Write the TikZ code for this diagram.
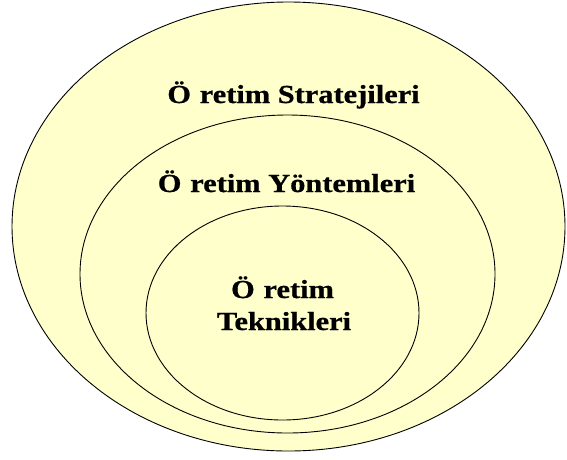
\documentclass[tikz,border=0pt]{standalone}
\usepackage{fontspec}
\setmainfont{Liberation Serif}
\newfontfamily\lblfont[FakeBold=0.7]{Liberation Serif Bold}
\usetikzlibrary{shapes.geometric}
\definecolor{paleyellow}{HTML}{FFFFCC}
\newcommand{\wide}[1]{\scalebox{1.17}[1]{#1}}
\tikzset{
  ring/.style={draw=black, fill=paleyellow, line width=0.9pt},
  lbl/.style={font=\lblfont\fontsize{26}{32}\selectfont, inner sep=0pt}
}
\begin{document}
\begin{tikzpicture}[x=1pt,y=-1pt]
\useasboundingbox (0,0) rectangle (567,459);
\fill[white] (0,0) rectangle (567,459);
\draw[ring] (288.5,226.5) ellipse [x radius=276.5, y radius=224.5];
\draw[ring] (287.5,274) ellipse [x radius=207.5, y radius=159];
\draw[ring] (282.5,313) ellipse [x radius=136.5, y radius=107];
\node[lbl, anchor=base] (strat) at (293.5,103) {\wide{Ö\hspace{7.5pt}retim Stratejileri}};
\node[lbl, anchor=base] (yont) at (286.5,192) {\wide{Ö\hspace{7.5pt}retim Yöntemleri}};
\node[lbl, anchor=base] (tek1) at (282.5,298) {\wide{Ö\hspace{7.5pt}retim}};
\node[lbl, anchor=base] (tek2) at (284,330) {\wide{Teknikleri}};
\end{tikzpicture}
\end{document}
